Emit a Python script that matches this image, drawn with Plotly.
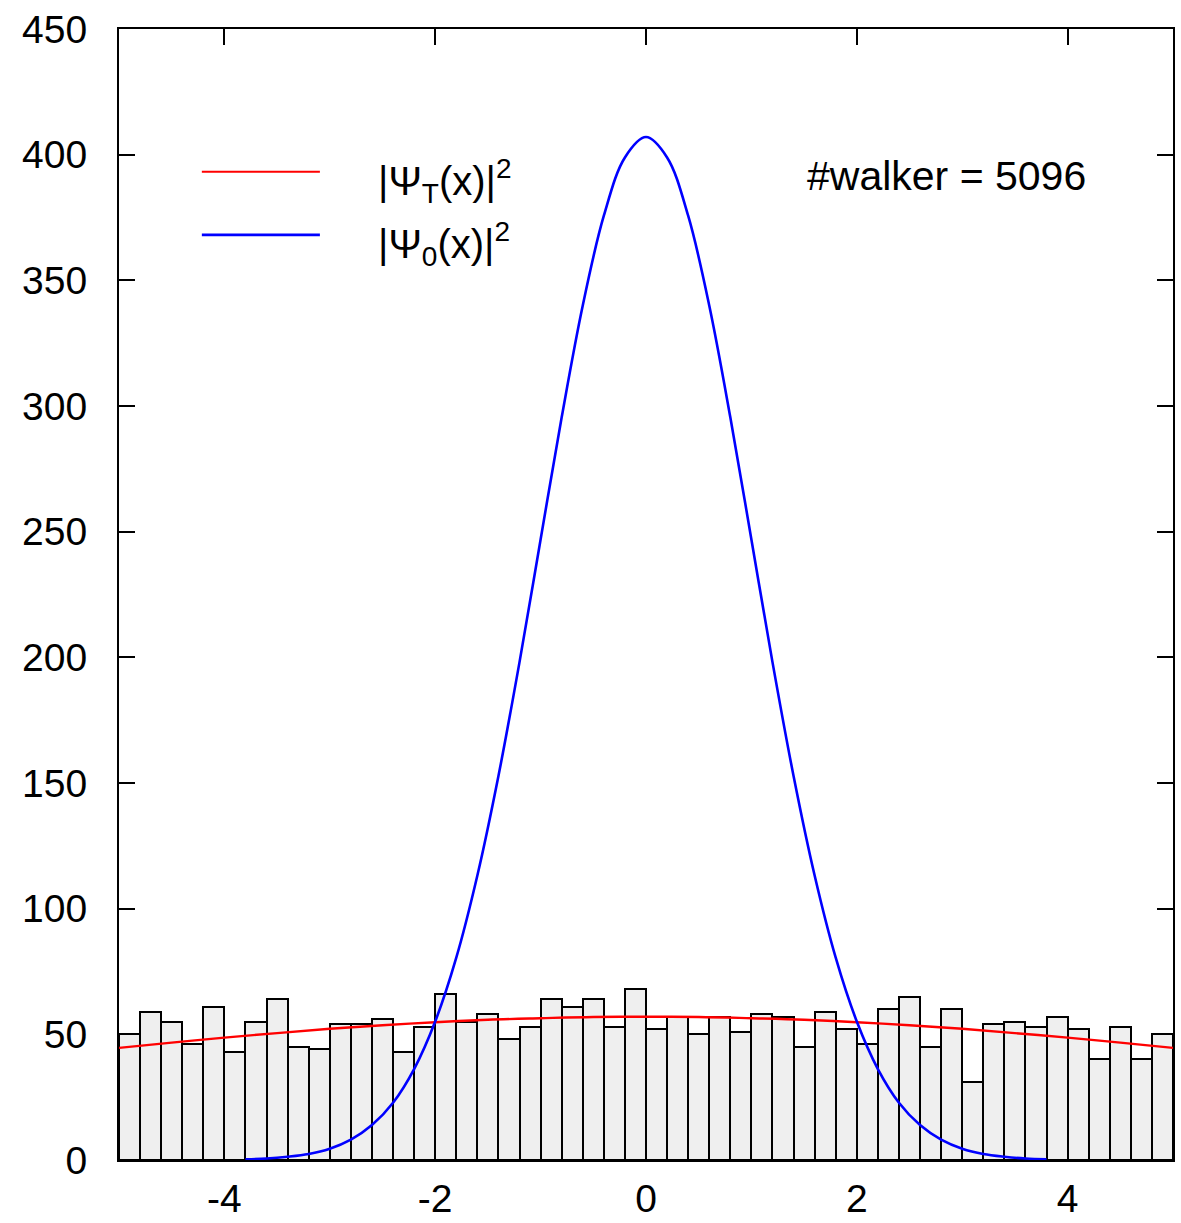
import numpy as np
import plotly.graph_objects as go

# ---- data ----
bin_start = -5.0
bin_width = 0.2
hist_counts = [50, 59, 55, 46, 61, 43, 55, 64, 45, 44,
               54, 54, 56, 43, 53, 66, 55, 58, 48, 53,
               64, 61, 64, 53, 68, 52, 57, 50, 57, 51,
               58, 57, 45, 59, 52, 46, 60, 65, 45, 60,
               31, 54, 55, 53, 57, 52, 40, 53, 40, 50]

trial_x = [-5.0, -4.5, -4.0, -3.5, -3.0, -2.5, -2.0, -1.5, -1.0, -0.5, 0.0,
           0.5, 1.0, 1.5, 2.0, 2.5, 3.0, 3.5, 4.0, 4.5, 5.0]
trial_y = [44.6, 46.7, 48.7, 50.5, 52.2, 53.6, 54.8, 55.8, 56.4, 56.9, 57.0,
           56.9, 56.4, 55.8, 54.8, 53.6, 52.2, 50.5, 48.7, 46.7, 44.6]

ground_x = [-3.8, -3.6, -3.4, -3.2, -3.0, -2.8, -2.6, -2.4, -2.2, -2.0,
            -1.8, -1.6, -1.4, -1.2, -1.0, -0.8, -0.6, -0.4, -0.2, 0.0,
            0.2, 0.4, 0.6, 0.8, 1.0, 1.2, 1.4, 1.6, 1.8, 2.0,
            2.2, 2.4, 2.6, 2.8, 3.0, 3.2, 3.4, 3.6, 3.8]
ground_y = [0.3, 0.6, 1.3, 2.4, 4.5, 8.1, 13.9, 22.8, 36.2, 55.1,
            80.5, 113.2, 152.8, 198.1, 246.9, 295.5, 340.0, 375.7, 398.9, 407.0,
            398.9, 375.7, 340.0, 295.5, 246.9, 198.1, 152.8, 113.2, 80.5, 55.1,
            36.2, 22.8, 13.9, 8.1, 4.5, 2.4, 1.3, 0.6, 0.3]

y_ticks = [0, 50, 100, 150, 200, 250, 300, 350, 400, 450]
x_ticks = [-4, -2, 0, 2, 4]
walker_text = "#walker = 5096"
label_trial = "|\u03a8<sub>T</sub>(x)|<sup>2</sup>"
label_ground = "|\u03a8<sub>0</sub>(x)|<sup>2</sup>"

bin_centers = [round(bin_start + bin_width * (i + 0.5), 3) for i in range(len(hist_counts))]

FONT = "Liberation Sans, Arial, Helvetica, sans-serif"

fig = go.Figure()
fig.add_trace(go.Bar(
    x=bin_centers, y=hist_counts, width=bin_width,
    marker=dict(color="#efefef", line=dict(color="black", width=2)),
    showlegend=False, hoverinfo="skip"))
fig.add_trace(go.Scatter(
    x=trial_x, y=trial_y, mode="lines", line=dict(color="#ff0000", width=2.4, shape="spline"),
    showlegend=False))
fig.add_trace(go.Scatter(
    x=ground_x, y=ground_y, mode="lines", line=dict(color="#0000ff", width=2.6, shape="spline"),
    showlegend=False))

axis_common = dict(showline=True, linecolor="black", linewidth=2, mirror="ticks",
                   ticks="inside", ticklen=16, tickwidth=1.5, tickcolor="black",
                   showgrid=False, zeroline=False, automargin=False,
                   tickfont=dict(family=FONT, size=39, color="black"))

fig.update_xaxes(range=[-5, 5], tickvals=x_ticks, ticktext=[str(v) for v in x_ticks],
                 ticklabelstandoff=3, **axis_common)
fig.update_yaxes(range=[0, 450], tickvals=y_ticks, ticklabelstandoff=22, **axis_common)

# legend drawn manually (gnuplot style)
fig.add_shape(type="line", xref="paper", yref="paper", x0=0.0786, x1=0.1906, y0=0.8738, y1=0.8738,
              line=dict(color="#ff0000", width=2))
fig.add_shape(type="line", xref="paper", yref="paper", x0=0.0786, x1=0.1906, y0=0.818, y1=0.818,
              line=dict(color="#0000ff", width=2.6))
fig.add_annotation(xref="paper", yref="paper", x=0.244, y=0.866, xanchor="left", yanchor="middle",
                   text=label_trial, showarrow=False, font=dict(family=FONT, size=40, color="black"))
fig.add_annotation(xref="paper", yref="paper", x=0.244, y=0.810, xanchor="left", yanchor="middle",
                   text=label_ground, showarrow=False, font=dict(family=FONT, size=40, color="black"))
fig.add_annotation(xref="paper", yref="paper", x=0.651, y=0.870, xanchor="left", yanchor="middle",
                   text=walker_text, showarrow=False, font=dict(family=FONT, size=41, color="black"))

fig.update_layout(width=1181, height=1223, paper_bgcolor="white", plot_bgcolor="white",
                  margin=dict(l=119, r=8, t=29, b=63), bargap=0, showlegend=False)

fig.write_html("out.html")
